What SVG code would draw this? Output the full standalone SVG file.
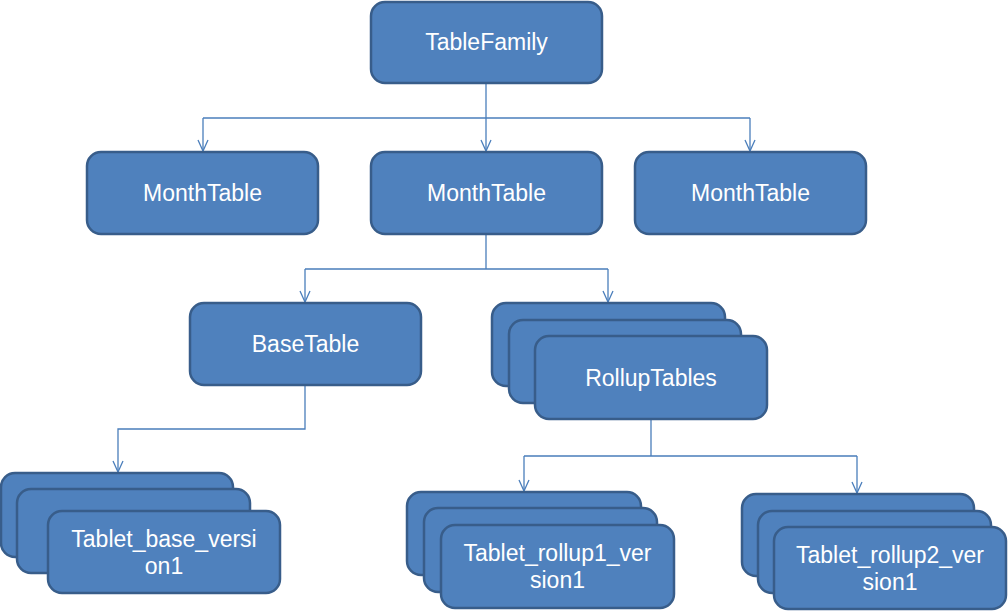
<svg xmlns="http://www.w3.org/2000/svg" width="1008" height="612" viewBox="0 0 1008 612">
<style>
.box{fill:#4F81BD;stroke:#385D8A;stroke-width:2.5}
.lbl{font-family:"Liberation Sans",Arial,sans-serif;font-size:23px;fill:#ffffff;text-anchor:middle}
.con{fill:none;stroke:#4A7EBB;stroke-width:1.3}
</style>
<defs>
<marker id="arr" markerUnits="userSpaceOnUse" markerWidth="14" markerHeight="14" viewBox="-13 -7 14 14" refX="0" refY="0" orient="auto">
<path d="M-11,-5 L0,0 L-11,5" fill="none" stroke="#4A7EBB" stroke-width="1.3"/>
</marker>
</defs>
<rect width="1008" height="612" fill="#ffffff"/>
<g id="connectors">
<path class="con" d="M486,83 V118"/>
<path class="con" d="M203,118 H750"/>
<path class="con" d="M203,118 V151" marker-end="url(#arr)"/>
<path class="con" d="M486,118 V151" marker-end="url(#arr)"/>
<path class="con" d="M750,118 V151" marker-end="url(#arr)"/>
<path class="con" d="M486,235 V269 M305,269 H608"/>
<path class="con" d="M305,269 V302" marker-end="url(#arr)"/>
<path class="con" d="M608,269 V302" marker-end="url(#arr)"/>
<path class="con" d="M305,385 V429 H118 V472" marker-end="url(#arr)"/>
<path class="con" d="M651,419 V456 M524,456 H857"/>
<path class="con" d="M524,456 V491" marker-end="url(#arr)"/>
<path class="con" d="M857,456 V493" marker-end="url(#arr)"/>
</g>
<g id="tablefamily">
<rect class="box" x="371" y="2" width="231" height="81" rx="14"/>
<text class="lbl" x="486.5" y="50">TableFamily</text>
</g>
<g id="monthtable1">
<rect class="box" x="87" y="152" width="231" height="82" rx="14"/>
<text class="lbl" x="202.5" y="201">MonthTable</text>
</g>
<g id="monthtable2">
<rect class="box" x="371" y="152" width="231" height="82" rx="14"/>
<text class="lbl" x="486.5" y="201">MonthTable</text>
</g>
<g id="monthtable3">
<rect class="box" x="635" y="152" width="231" height="82" rx="14"/>
<text class="lbl" x="750.5" y="201">MonthTable</text>
</g>
<g id="basetable">
<rect class="box" x="190" y="303" width="231" height="82" rx="14"/>
<text class="lbl" x="305.5" y="352">BaseTable</text>
</g>
<g id="rolluptables">
<rect class="box" x="492" y="303" width="233" height="83" rx="14"/>
<rect class="box" x="509" y="320" width="232" height="83" rx="14"/>
<rect class="box" x="535" y="336" width="232" height="83" rx="14"/>
<text class="lbl" x="651" y="386">RollupTables</text>
</g>
<g id="tablet_base">
<rect class="box" x="1" y="473" width="232" height="84" rx="14"/>
<rect class="box" x="17" y="489" width="233" height="84" rx="14"/>
<rect class="box" x="48" y="511" width="232" height="82" rx="14"/>
<text class="lbl" x="164" y="547">Tablet_base_versi</text>
<text class="lbl" x="164" y="574">on1</text>
</g>
<g id="tablet_rollup1">
<rect class="box" x="407" y="492" width="234" height="83" rx="14"/>
<rect class="box" x="424" y="508" width="233" height="84" rx="14"/>
<rect class="box" x="441" y="525" width="233" height="83" rx="14"/>
<text class="lbl" x="557.5" y="561">Tablet_rollup1_ver</text>
<text class="lbl" x="557.5" y="588">sion1</text>
</g>
<g id="tablet_rollup2">
<rect class="box" x="742" y="494" width="232" height="82" rx="14"/>
<rect class="box" x="758" y="511" width="233" height="82" rx="14"/>
<rect class="box" x="774" y="527" width="232" height="82" rx="14"/>
<text class="lbl" x="890" y="563">Tablet_rollup2_ver</text>
<text class="lbl" x="890" y="590">sion1</text>
</g>
</svg>
